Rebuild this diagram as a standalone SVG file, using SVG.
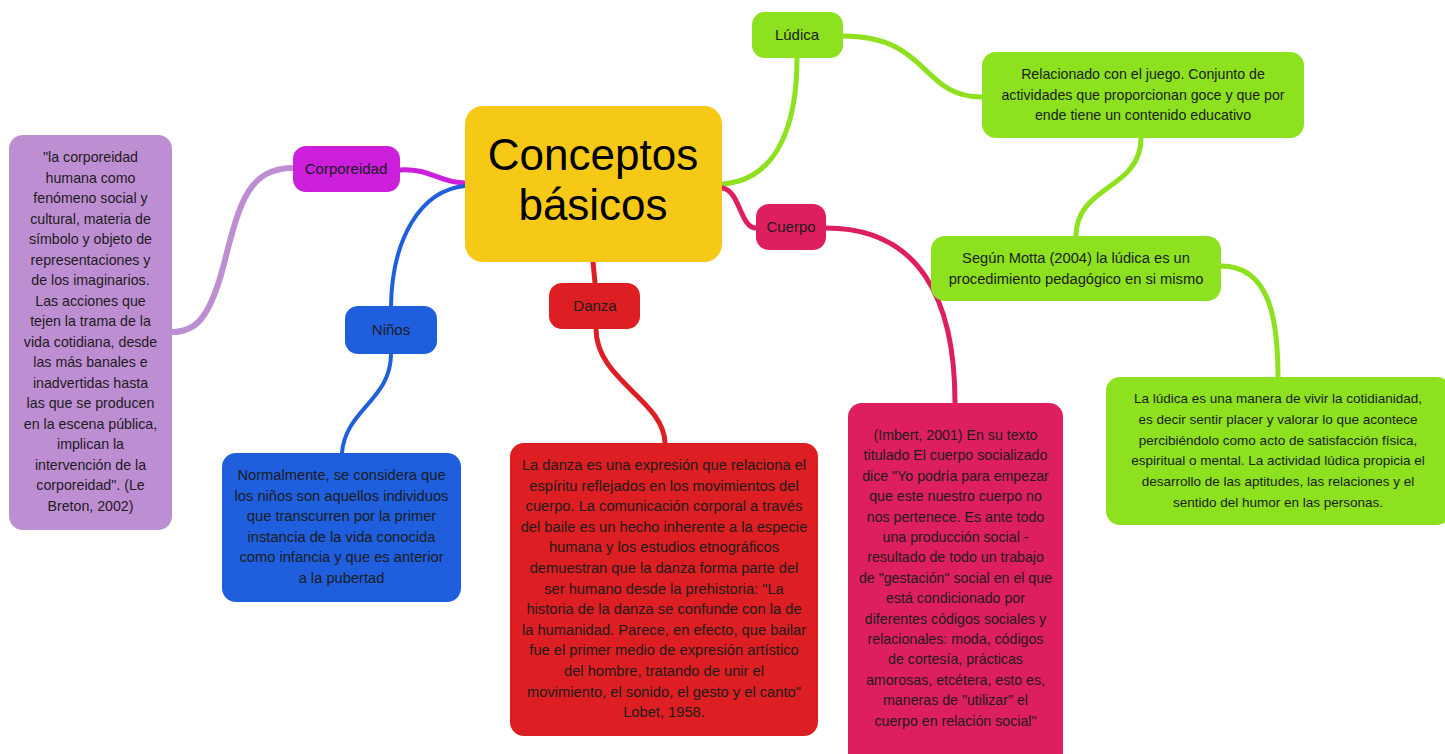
<svg xmlns="http://www.w3.org/2000/svg" width="1445" height="754" viewBox="0 0 1445 754">
<style>
text{font-family:"Liberation Sans",Arial,sans-serif;fill:#1c1c1c;text-anchor:middle}
.t{font-size:14.2px}
.d{font-size:14.7px}
.s{font-size:13.5px}
.lbl{font-size:15px}
.title{font-size:44px;fill:#000}
.c{fill:none;stroke-linecap:round}
</style>
<rect width="1445" height="754" fill="#fff"/>
<g id="connectors">
<path class="c" d="M400,170 C430,168 440,183 465,183" stroke="#CB1FDB" stroke-width="5"/>
<path class="c" d="M293,168 C250,168 240,200 225,260 C210,320 195,332 172,332" stroke="#BE8ED3" stroke-width="6"/>
<path class="c" d="M465,186 C420,190 392,240 391,306" stroke="#1F5FDD" stroke-width="4"/>
<path class="c" d="M391,354 C391,400 345,410 342,453" stroke="#1F5FDD" stroke-width="4"/>
<path class="c" d="M593,262 L595,283" stroke="#DD1E22" stroke-width="5"/>
<path class="c" d="M596,329 C596,380 664,400 665,443" stroke="#DD1E22" stroke-width="5"/>
<path class="c" d="M722,184 C780,180 797,120 797,58" stroke="#8DE11E" stroke-width="5"/>
<path class="c" d="M843,36 C930,36 920,97 982,97" stroke="#8DE11E" stroke-width="5"/>
<path class="c" d="M1141,138 C1141,190 1076,185 1076,236" stroke="#8DE11E" stroke-width="5"/>
<path class="c" d="M1221,266 C1270,266 1278,320 1278,377" stroke="#8DE11E" stroke-width="5"/>
<path class="c" d="M722,188 C740,190 740,228 756,228" stroke="#DE1F5F" stroke-width="5"/>
<path class="c" d="M826,228 C920,228 955,300 955,403" stroke="#DE1F5F" stroke-width="5"/>
</g>
<g id="center">
<rect x="465" y="106" width="257" height="156" rx="18" fill="#F6C917"/>
<text class="title" x="593" y="170">Conceptos</text>
<text class="title" x="593" y="220">básicos</text>
</g>
<g id="corporeidad">
<rect x="293" y="146" width="107" height="46" rx="13" fill="#CB1FDB"/>
<text class="lbl" x="346" y="174">Corporeidad</text>
</g>
<g id="corporeidad-text">
<rect x="9" y="135" width="163" height="395" rx="14" fill="#BE8ED3"/>
<text class="t" x="90.5" y="162">"la corporeidad</text>
<text class="t" x="90.5" y="182.5">humana como</text>
<text class="t" x="90.5" y="203">fenómeno social y</text>
<text class="t" x="90.5" y="223.5">cultural, materia de</text>
<text class="t" x="90.5" y="244">símbolo y objeto de</text>
<text class="t" x="90.5" y="264.5">representaciones y</text>
<text class="t" x="90.5" y="285">de los imaginarios.</text>
<text class="t" x="90.5" y="305.5">Las acciones que</text>
<text class="t" x="90.5" y="326">tejen la trama de la</text>
<text class="t" x="90.5" y="346.5">vida cotidiana, desde</text>
<text class="t" x="90.5" y="367">las más banales e</text>
<text class="t" x="90.5" y="387.5">inadvertidas hasta</text>
<text class="t" x="90.5" y="408">las que se producen</text>
<text class="t" x="90.5" y="428.5">en la escena pública,</text>
<text class="t" x="90.5" y="449">implican la</text>
<text class="t" x="90.5" y="469.5">intervención de la</text>
<text class="t" x="90.5" y="490">corporeidad". (Le</text>
<text class="t" x="90.5" y="510.5">Breton, 2002)</text>
</g>
<g id="ninos">
<rect x="345" y="306" width="92" height="48" rx="13" fill="#1F5FDD"/>
<text class="lbl" x="391" y="335">Niños</text>
</g>
<g id="ninos-text">
<rect x="222" y="453" width="239" height="149" rx="14" fill="#1F5FDD"/>
<text class="d" x="341.5" y="480">Normalmente, se considera que</text>
<text class="d" x="341.5" y="500.6">los niños son aquellos individuos</text>
<text class="d" x="341.5" y="521.2">que transcurren por la primer</text>
<text class="d" x="341.5" y="541.8">instancia de la vida conocida</text>
<text class="d" x="341.5" y="562.4">como infancia y que es anterior</text>
<text class="d" x="341.5" y="583">a la pubertad</text>
</g>
<g id="danza">
<rect x="549" y="283" width="91" height="46" rx="13" fill="#DD1E22"/>
<text class="lbl" x="595" y="311">Danza</text>
</g>
<g id="danza-text">
<rect x="510" y="443" width="308" height="293" rx="14" fill="#DD1E22"/>
<text class="d" x="664" y="470">La danza es una expresión que relaciona el</text>
<text class="d" x="664" y="490.6">espíritu reflejados en los movimientos del</text>
<text class="d" x="664" y="511.2">cuerpo. La comunicación corporal a través</text>
<text class="d" x="664" y="531.8">del baile es un hecho inherente a la especie</text>
<text class="d" x="664" y="552.4">humana y los estudios etnográficos</text>
<text class="d" x="664" y="573">demuestran que la danza forma parte del</text>
<text class="d" x="664" y="593.6">ser humano desde la prehistoria: "La</text>
<text class="d" x="664" y="614.2">historia de la danza se confunde con la de</text>
<text class="d" x="664" y="634.8">la humanidad. Parece, en efecto, que bailar</text>
<text class="d" x="664" y="655.4">fue el primer medio de expresión artístico</text>
<text class="d" x="664" y="676">del hombre, tratando de unir el</text>
<text class="d" x="664" y="696.6">movimiento, el sonido, el gesto y el canto"</text>
<text class="d" x="664" y="717.2">Lobet, 1958.</text>
</g>
<g id="cuerpo">
<rect x="756" y="204" width="70" height="46" rx="13" fill="#DE1F5F"/>
<text class="lbl" x="791" y="232">Cuerpo</text>
</g>
<g id="cuerpo-text">
<rect x="848" y="403" width="215" height="365" rx="14" fill="#DE1F5F"/>
<text class="t" x="955.5" y="440">(Imbert, 2001) En su texto</text>
<text class="t" x="955.5" y="460.4">titulado El cuerpo socializado</text>
<text class="t" x="955.5" y="480.8">dice "Yo podría para empezar</text>
<text class="t" x="955.5" y="501.2">que este nuestro cuerpo no</text>
<text class="t" x="955.5" y="521.6">nos pertenece. Es ante todo</text>
<text class="t" x="955.5" y="542">una producción social -</text>
<text class="t" x="955.5" y="562.4">resultado de todo un trabajo</text>
<text class="t" x="955.5" y="582.8">de "gestación" social en el que</text>
<text class="t" x="955.5" y="603.2">está condicionado por</text>
<text class="t" x="955.5" y="623.6">diferentes códigos sociales y</text>
<text class="t" x="955.5" y="644">relacionales: moda, códigos</text>
<text class="t" x="955.5" y="664.4">de cortesía, prácticas</text>
<text class="t" x="955.5" y="684.8">amorosas, etcétera, esto es,</text>
<text class="t" x="955.5" y="705.2">maneras de "utilizar" el</text>
<text class="t" x="955.5" y="725.6">cuerpo en relación social"</text>
</g>
<g id="ludica">
<rect x="752" y="12" width="91" height="46" rx="13" fill="#8DE11E"/>
<text class="lbl" x="797" y="40">Lúdica</text>
</g>
<g id="ludica-def">
<rect x="982" y="52" width="322" height="86" rx="14" fill="#8DE11E"/>
<text class="t" x="1143" y="79">Relacionado con el juego. Conjunto de</text>
<text class="t" x="1143" y="99.5">actividades que proporcionan goce y que por</text>
<text class="t" x="1143" y="120">ende tiene un contenido educativo</text>
</g>
<g id="ludica-motta">
<rect x="931" y="236" width="290" height="65" rx="14" fill="#8DE11E"/>
<text class="d" x="1076" y="263">Según Motta (2004) la lúdica es un</text>
<text class="d" x="1076" y="284">procedimiento pedagógico en si mismo</text>
</g>
<g id="ludica-vivir">
<rect x="1106" y="377" width="345" height="148" rx="14" fill="#8DE11E"/>
<text class="s" x="1278" y="403">La lúdica es una manera de vivir la cotidianidad,</text>
<text class="s" x="1278" y="423.8">es decir sentir placer y valorar lo que acontece</text>
<text class="s" x="1278" y="444.6">percibiéndolo como acto de satisfacción física,</text>
<text class="s" x="1278" y="465.4">espiritual o mental. La actividad lúdica propicia el</text>
<text class="s" x="1278" y="486.2">desarrollo de las aptitudes, las relaciones y el</text>
<text class="s" x="1278" y="507">sentido del humor en las personas.</text>
</g>
</svg>
